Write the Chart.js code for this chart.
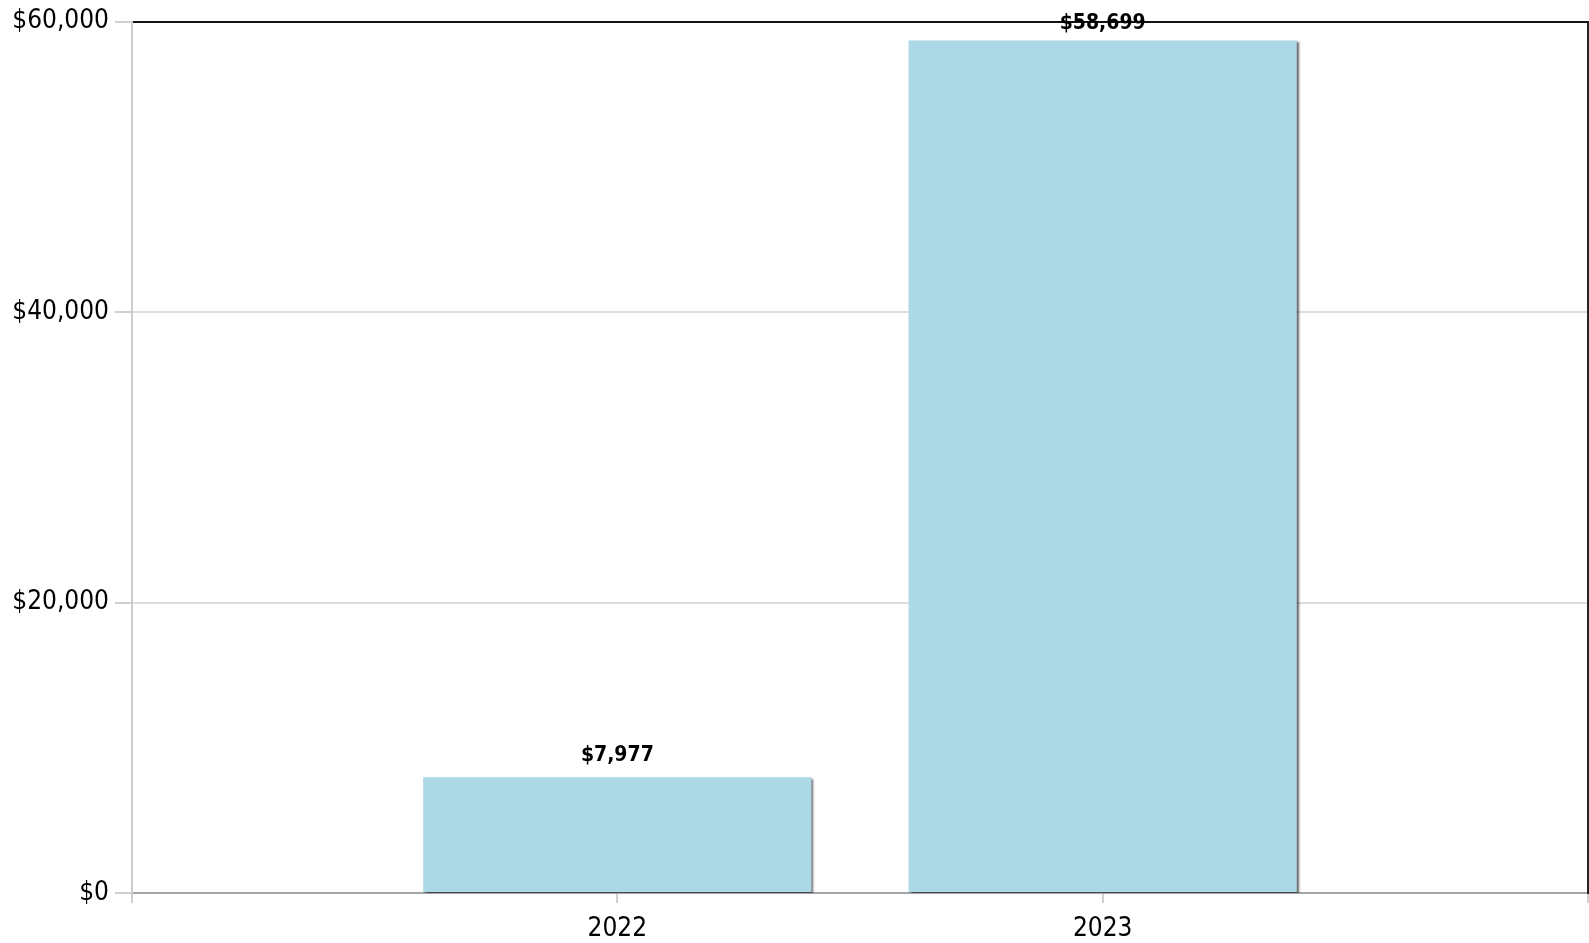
<!DOCTYPE html>
<html>
<head>
<meta charset="utf-8">
<script src="https://cdn.jsdelivr.net/npm/chart.js@4"></script>
<style>
  html, body { margin: 0; padding: 0; background: #fff; }
  #wrap { width: 1589px; height: 943px; }
</style>
</head>
<body>
<div id="wrap"><canvas id="chart"></canvas></div>
<script>
"use strict";
var categories = ["2022", "2023"];
var amounts = [7977, 58699];
var yTicks = [0, 20000, 40000, 60000];

var FONT = "'DejaVu Sans Condensed', 'DejaVu Sans', sans-serif";

function money(v){
    return "$" + v.toLocaleString("en-US");
}

// padded with empty slots so the bars sit at 1/3 and 2/3 of the axis
var labels = [""].concat(categories, [""]);
var values = [null].concat(amounts, [null]);

var barShadow = {
    id: "barShadow",
    beforeDatasetsDraw: function(chart){
        var ctx = chart.ctx;
        ctx.save();
        ctx.shadowColor = "rgba(0,0,0,0.6)";
        ctx.shadowOffsetX = 2;
        ctx.shadowOffsetY = 2;
        ctx.shadowBlur = 2;
    },
    afterDatasetsDraw: function(chart){
        chart.ctx.restore();
    }
};

var valueLabels = {
    id: "valueLabels",
    afterDraw: function(chart){
        var ctx = chart.ctx;
        var meta = chart.getDatasetMeta(0);
        ctx.save();
        ctx.font = "bold 21px " + FONT;
        ctx.fillStyle = "#000";
        ctx.textAlign = "center";
        ctx.textBaseline = "alphabetic";
        meta.data.forEach(function(bar, i){
            var v = values[i];
            if (v === null) return;
            var y = Math.max(bar.y - 16, chart.chartArea.top + 7);
            ctx.fillText(money(v), bar.x, y);
        });
        ctx.restore();
    }
};

var chart = new Chart(document.getElementById("chart").getContext("2d"), {
    type: "bar",
    data: {
        labels: labels,
        datasets: [{
            data: values,
            backgroundColor: "#add8e6",
            borderWidth: 0,
            barPercentage: 0.8,
            categoryPercentage: 1
        }]
    },
    options: {
        responsive: true,
        maintainAspectRatio: false,
        animation: false,
        layout: { padding: { top: 19, right: 1, left: 0, bottom: 0 } },
        plugins: {
            legend: { display: false },
            tooltip: { enabled: false }
        },
        scales: {
            x: {
                offset: false,
                border: { color: "#a6a6a6", width: 2 },
                grid: {
                    offset: false,
                    drawOnChartArea: false,
                    color: "#d0d0d0",
                    lineWidth: 2,
                    tickLength: 10
                },
                ticks: {
                    color: "#000",
                    font: { family: FONT, size: 26 },
                    padding: 11,
                    maxRotation: 0,
                    autoSkip: false
                },
                afterFit: function(s){
                    s.height = 50;
                    s.paddingLeft = 0;
                    s.paddingRight = 0;
                }
            },
            y: {
                min: 0,
                max: 60000,
                afterBuildTicks: function(s){
                    s.ticks = yTicks.map(function(v){ return { value: v }; });
                },
                border: { color: "#cccccc", width: 2 },
                grid: {
                    color: function(c){ return c.tick && c.tick.value === 60000 ? "#111" : "#dddddd"; },
                    tickColor: "#d0d0d0",
                    lineWidth: 2,
                    tickLength: 17
                },
                ticks: {
                    color: "#000",
                    font: { family: FONT, size: 26 },
                    padding: 6,
                    callback: function(v){ return money(v); }
                },
                afterFit: function(s){ s.width = 132; }
            },
            y2: {
                position: "right",
                min: 0,
                max: 60000,
                border: { color: "#222", width: 2 },
                grid: { drawOnChartArea: false, drawTicks: false },
                ticks: { display: false },
                afterFit: function(s){ s.width = 0; }
            }
        }
    },
    plugins: [barShadow, valueLabels]
});
</script>
</body>
</html>
